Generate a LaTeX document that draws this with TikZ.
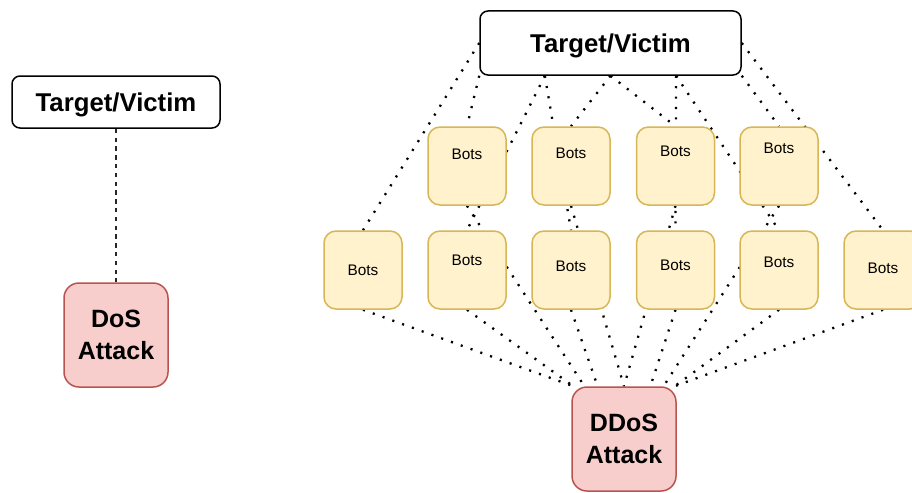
\documentclass[tikz,border=0pt]{standalone}
\usepackage{fontspec}
\setmainfont{Liberation Sans}
\usetikzlibrary{calc}
\newdimen\upx \upx=0.75pt
\definecolor{botfill}{HTML}{FFF2CC}
\definecolor{botdraw}{HTML}{D6B656}
\definecolor{atkfill}{HTML}{F8CECC}
\definecolor{atkdraw}{HTML}{B85450}
\pgfdeclarelayer{bg}
\pgfsetlayers{bg,main}

\begin{document}
\begin{tikzpicture}[x=0.75pt,y=-0.75pt,
  bigtext/.style={font=\fontsize{18.75}{24}\selectfont\bfseries},
  targetbox/.style={draw=black, fill=white, line width=1.5\upx, rounded corners=8\upx,
    inner sep=0pt, font=\fontsize{19.3}{24}\selectfont\bfseries, text height=13.8pt, text depth=0pt},
  attackbox/.style={draw=atkdraw, fill=atkfill, line width=1.5\upx, rounded corners=15\upx,
    minimum width=104\upx, minimum height=104\upx, inner sep=0pt, align=center, bigtext},
  botbox/.style={draw=botdraw, fill=botfill, line width=1.5\upx, rounded corners=12\upx,
    minimum width=78\upx, minimum height=78\upx, inner sep=0pt,
    label={[font=\fontsize{11.5}{13}\selectfont, inner sep=0pt, yshift=#1\upx]center:Bots}},
  dotline/.style={line width=2.3\upx, dash pattern=on 2.1\upx off 8.3\upx, black},
  dashline/.style={line width=1.4\upx, dash pattern=on 4.4\upx off 4.4\upx, black!85}]
\useasboundingbox (0,0) rectangle (912,492);

% single-source attack
\node[targetbox, minimum width=208\upx, minimum height=52\upx] (tgtA) at (116,102) {Target/Victim};
\node[attackbox] (dos) at (116,335) {DoS\\Attack};
\draw[dashline] (tgtA.south) -- (dos.north);

% distributed attack
\node[targetbox, minimum width=261\upx, minimum height=64\upx] (tgt) at (610.5,43) {Target/Victim};
\node[attackbox] (ddos) at (624,439) {DDoS\\Attack};

\node[botbox=12] (t1) at (467,166) {};
\node[botbox=13] (t2) at (571,166) {};
\node[botbox=15] (t3) at (675.5,166) {};
\node[botbox=18] (t4) at (779,166) {};

\node[botbox=0]  (b1) at (363,270) {};
\node[botbox=10] (b2) at (467,270) {};
\node[botbox=4]  (b3) at (571,270) {};
\node[botbox=5]  (b4) at (675.5,270) {};
\node[botbox=8]  (b5) at (779,270) {};
\node[botbox=2]  (b6) at (883,270) {};

% connection points along the target's bottom edge and the attack box's top edge
\coordinate (tq1) at ($(tgt.south west)!0.25!(tgt.south east)$);
\coordinate (tq3) at ($(tgt.south west)!0.75!(tgt.south east)$);
\coordinate (d0)  at ($(ddos.north west)!0.02!(ddos.north east)$);
\coordinate (d1)  at ($(ddos.north west)!0.125!(ddos.north east)$);
\coordinate (d2)  at ($(ddos.north west)!0.25!(ddos.north east)$);
\coordinate (d6)  at ($(ddos.north west)!0.75!(ddos.north east)$);
\coordinate (d7)  at ($(ddos.north west)!0.875!(ddos.north east)$);
\coordinate (d8)  at ($(ddos.north west)!0.98!(ddos.north east)$);

\begin{pgfonlayer}{bg}
  % target to bots
  \draw[dotline] (tgt.west) -- (b1.north);
  \draw[dotline] (tgt.south west) -- (t1.north);
  \draw[dotline] (tq1) -- (b2.north);
  \draw[dotline] (tq1) -- (b3.north);
  \draw[dotline] (tgt.south) -- (t2.north);
  \draw[dotline] (tgt.south) -- (t3.north);
  \draw[dotline] (tq3) -- (b4.north);
  \draw[dotline] (tq3) -- (b5.north);
  \draw[dotline] (tgt.south east) -- (t4.north);
  \draw[dotline] (tgt.east) -- (b6.north);
  % bots to attack
  \draw[dotline] (b1.south) -- (d0);
  \draw[dotline] (b2.south) -- (d0);
  \draw[dotline] (t1.south) -- (d1);
  \draw[dotline] (b3.south) -- (d2);
  \draw[dotline] (t2.south) -- (ddos.north);
  \draw[dotline] (t3.south) -- (ddos.north);
  \draw[dotline] (b4.south) -- (d6);
  \draw[dotline] (t4.south) -- (d7);
  \draw[dotline] (b5.south) -- (d8);
  \draw[dotline] (b6.south) -- (d8);
\end{pgfonlayer}
\end{tikzpicture}
\end{document}
